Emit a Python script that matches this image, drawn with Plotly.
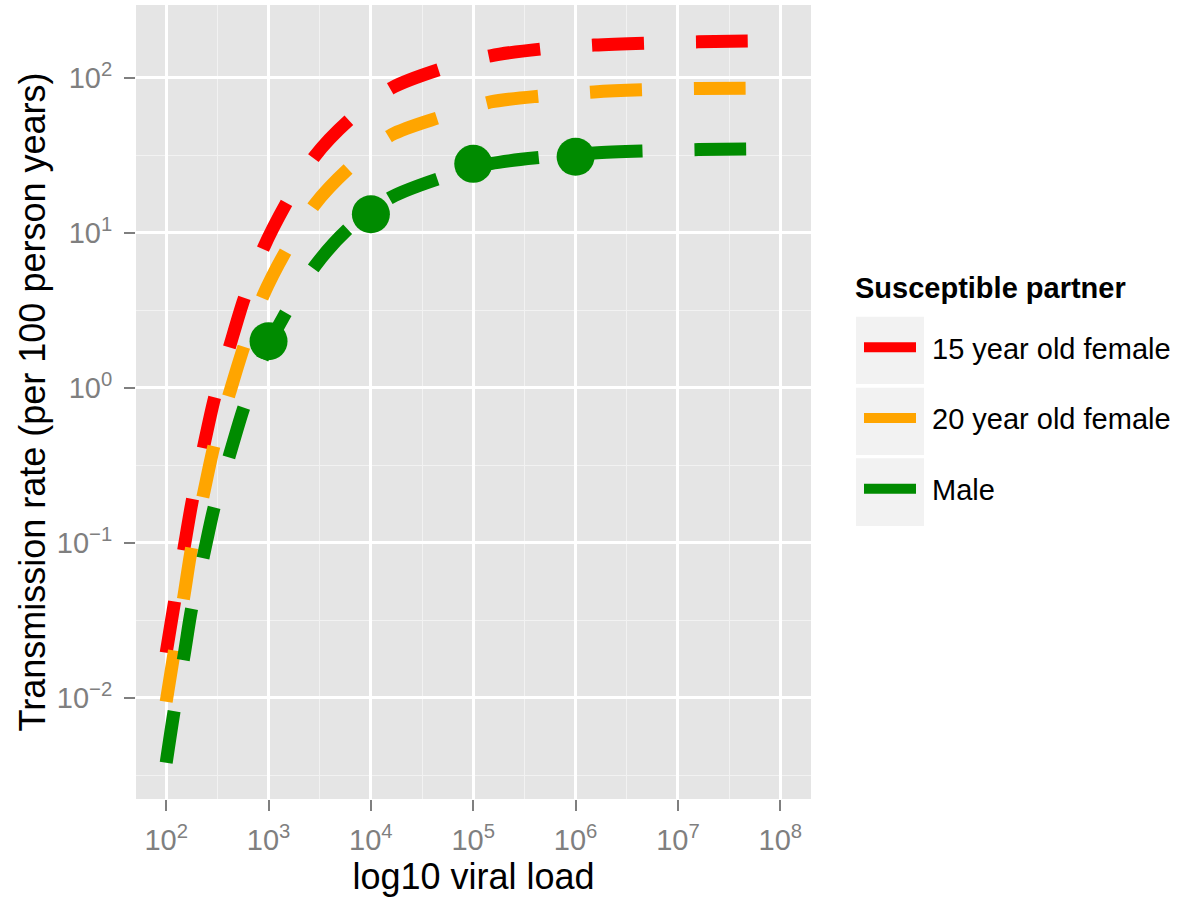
import numpy as np
import plotly.graph_objects as go

# ---- data ----
log10_viral_load = [2.0, 2.08, 2.17, 2.25, 2.36, 2.47, 2.62, 2.76, 2.95, 3.17,
                    3.45, 3.79, 4.2, 4.68, 5.17, 5.67, 6.18, 6.69, 7.2, 7.7]
rate_female15 = [0.0195, 0.041, 0.089, 0.18, 0.40, 0.85, 1.85, 3.74, 7.98, 15.4,
                 31.1, 53.7, 86, 114, 139, 154, 163, 168, 171, 173]
rate_female20 = [0.0094, 0.020, 0.044, 0.094, 0.20, 0.43, 0.93, 1.85, 3.98, 7.66,
                 15.2, 26.3, 42.9, 56, 70, 76.6, 81.3, 84, 85.5, 86]
rate_male = [0.0038, 0.0084, 0.018, 0.038, 0.080, 0.171, 0.37, 0.75, 1.6, 3.06,
             6.07, 10.8, 17.0, 22.6, 28.0, 30.8, 32.8, 33.8, 34.5, 34.8]

obs_viral_load = [1e3, 1e4, 1e5, 1e6]
obs_rate_male = [2.0, 13.2, 27.9, 31.0]

series_names = ["15 year old female", "20 year old female", "Male"]
series_colors = ["#FF0000", "#FFA500", "#008B00"]
legend_title = "Susceptible partner"

x_tick_vals = [1e2, 1e3, 1e4, 1e5, 1e6, 1e7, 1e8]
x_tick_text = ["10<sup>2</sup>", "10<sup>3</sup>", "10<sup>4</sup>", "10<sup>5</sup>",
               "10<sup>6</sup>", "10<sup>7</sup>", "10<sup>8</sup>"]
x_minor_vals = [10 ** 2.5, 10 ** 3.5, 10 ** 4.5, 10 ** 5.5, 10 ** 6.5, 10 ** 7.5]
y_tick_vals = [1e-2, 1e-1, 1e0, 1e1, 1e2]
y_tick_text = ["10<sup>\u22122</sup>", "10<sup>\u22121</sup>", "10<sup>0</sup>",
               "10<sup>1</sup>", "10<sup>2</sup>"]
y_minor_vals = [10 ** -2.5, 10 ** -1.5, 10 ** -0.5, 10 ** 0.5, 10 ** 1.5]

FONT = "Liberation Sans, Arial, Helvetica, sans-serif"

x_vals = 10 ** np.array(log10_viral_load)

fig = go.Figure()
for name, color, ys in zip(series_names, series_colors,
                           [rate_female15, rate_female20, rate_male]):
    fig.add_trace(go.Scatter(
        x=x_vals, y=ys, mode="lines", name=name, legendgroup=name,
        line=dict(color=color, width=13, dash="52px,52px", shape="spline", smoothing=0.8),
    ))

fig.add_trace(go.Scatter(
    x=obs_viral_load, y=obs_rate_male, mode="markers", showlegend=False,
    marker=dict(color="#008B00", size=38, line=dict(width=0)),
))

# plot-area geometry in page pixels
W, H = 1203, 898
pl, pr, pt, pb = 136, 811, 5, 799


def px_x(v):
    return (v - pl) / (pr - pl)


def px_y(v):
    return (pb - v) / (pb - pt)


# legend key backgrounds (ggplot style)
key_boxes = [(316.7, 384.0), (387.7, 455.0), (458.3, 526.0)]
for top, bot in key_boxes:
    fig.add_shape(type="rect", xref="paper", yref="paper",
                  x0=px_x(856), x1=px_x(924), y0=px_y(bot), y1=px_y(top),
                  fillcolor="#F2F2F2", line=dict(width=0), layer="below")

fig.add_annotation(
    text="<b>" + legend_title + "</b>", xref="paper", yref="paper",
    x=px_x(853), y=px_y(288), xanchor="left", yanchor="middle", showarrow=False,
    font=dict(family=FONT, size=29, color="#000000"),
)

axis_common = dict(
    type="log", showline=False, zeroline=False,
    gridcolor="#FFFFFF", gridwidth=2.5,
    ticks="outside", ticklen=11, tickwidth=2, tickcolor="#7F7F7F",
    tickfont=dict(family=FONT, size=29, color="#7F7F7F"),
    tickmode="array",
)

fig.update_xaxes(
    **axis_common,
    range=[1.705, 8.30],
    tickvals=x_tick_vals, ticktext=x_tick_text,
    minor=dict(tickvals=x_minor_vals, showgrid=True, gridcolor="#F2F2F2",
               gridwidth=1.3, ticks=""),
    title=dict(text="log10 viral load", font=dict(family=FONT, size=36, color="#000000"),
               standoff=6),
    ticklabelstandoff=4,
)
fig.update_yaxes(
    **axis_common,
    range=[-2.654, 2.471],
    tickvals=y_tick_vals, ticktext=y_tick_text,
    minor=dict(tickvals=y_minor_vals, showgrid=True, gridcolor="#F2F2F2",
               gridwidth=1.3, ticks=""),
    title=dict(text="Transmission rate (per 100 person years)",
               font=dict(family=FONT, size=36, color="#000000"), standoff=0),
    ticklabelstandoff=6,
)

fig.update_layout(
    width=W, height=H,
    margin=dict(l=pl, r=W - pr, t=pt, b=H - pb, autoexpand=False),
    paper_bgcolor="#FFFFFF", plot_bgcolor="#E5E5E5",
    font=dict(family=FONT, size=29, color="#000000"),
    showlegend=True,
    legend=dict(
        x=px_x(859), xanchor="left",
        y=px_y(322), yanchor="top",
        bgcolor="rgba(0,0,0,0)", borderwidth=0,
        font=dict(family=FONT, size=29, color="#000000"),
        traceorder="grouped", tracegroupgap=30, itemwidth=63,
    ),
)

fig.write_html("out.html", config={"displayModeBar": False},
               post_script="document.body.style.margin='0px';")
